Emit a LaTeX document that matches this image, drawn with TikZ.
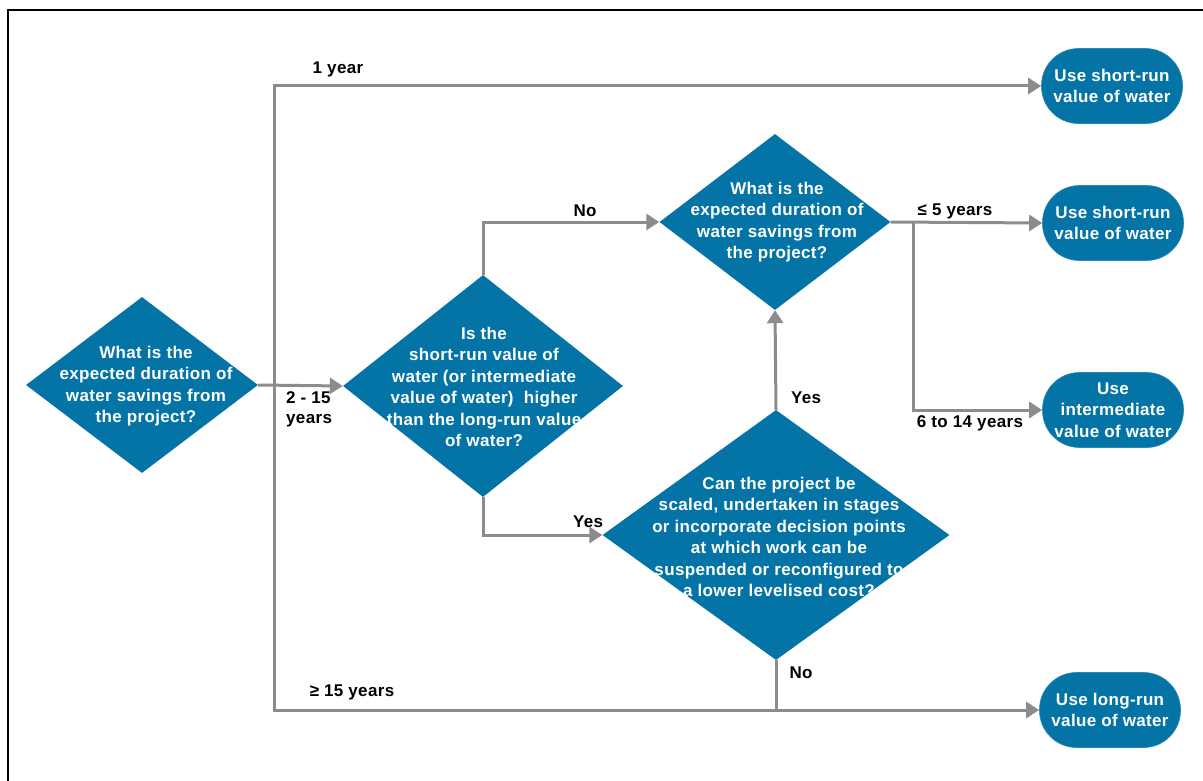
\documentclass[tikz,border=0pt]{standalone}
\usepackage{fontspec}
\setmainfont{Liberation Sans}[LetterSpace=2]
\usetikzlibrary{shapes.geometric,arrows.meta}
\definecolor{nodeblue}{RGB}{4,115,166}
\definecolor{linegray}{RGB}{140,140,140}
\begin{document}
\begin{tikzpicture}[x=1pt,y=-1pt,
  dia/.style={diamond, fill=nodeblue, inner sep=0pt},
  qtext/.style={text=white, font=\bfseries\fontsize{17}{21.5}\selectfont, align=center, inner sep=0pt},
  term/.style={rectangle, rounded corners=37pt, fill=nodeblue, draw=nodeblue!85!white, line width=0.6pt,
    minimum width=141pt, minimum height=75pt, inner sep=0pt, text=white,
    font=\bfseries\fontsize{17}{21.5}\selectfont, align=center},
  conn/.style={draw=linegray, line width=3pt},
  arr/.style={conn, -{Triangle[length=13pt,width=16pt]}},
  lbl/.style={font=\bfseries\fontsize{17}{20}\selectfont, text=black, inner sep=0pt}
]
\useasboundingbox (0,0) rectangle (1203,781);
\draw[line width=2.2pt] (8,782) -- (8,10) -- (1204,10);

% decisions
\node[dia, minimum width=232pt, minimum height=176pt] (d1) at (142,385) {};
\node[qtext] (d1t) at (146,386) {What is the\\expected duration of\\water savings from\\the project?};
\node[dia, minimum width=280pt, minimum height=222pt] (d2) at (483,386) {};
\node[qtext] (d2t) at (484,387) {Is the\\short-run value of\\water (or intermediate\\value of water)\ \ higher\\than the long-run value\\of water?};
\node[dia, minimum width=231pt, minimum height=176pt] (d3) at (775,222) {};
\node[qtext] (d3t) at (777,222) {What is the\\expected duration of\\water savings from\\the project?};
\node[dia, minimum width=347pt, minimum height=250pt] (d4) at (776,535) {};
\node[qtext] (d4t) at (779,537) {Can the project be\\scaled, undertaken in stages\\or incorporate decision points\\at which work can be\\suspended or reconfigured to\\a lower levelised cost?};

% terminals
\node[term] (t1) at (1112,86) {Use short-run\\value of water};
\node[term] (t2) at (1113,223) {Use short-run\\value of water};
\node[term] (t3) at (1113,410) {Use\\intermediate\\value of water};
\node[term] (t4) at (1110,710) {Use long-run\\value of water};

% connectors
\coordinate (j1) at (274,385);
\draw[arr] (d1.east) -- (d2.west);
\draw[arr] (j1) |- (t1.west);
\draw[arr] (j1) |- (t4.west);
\draw[arr] (d2.north) |- (d3.west);
\draw[arr] (d2.south) |- (d4.west);
\draw[arr] (d4.north) -- (d3.south);
\coordinate (j4) at (d4.south |- t4.west);
\draw[conn] (d4.south) -- (j4);
\draw[arr] (d3.east) -- (t2.west);
\coordinate (j3) at (913,223);
\draw[arr] (j3) |- (t3.west);

% labels
\node[lbl] (l1) at (338,69) {1 year};
\node[lbl, anchor=west, align=left] (l2) at (286,409) {2 - 15\\years};
\node[lbl] (l3) at (352,692) {≥ 15 years};
\node[lbl] (l4) at (585,211) {No};
\node[lbl] (l5) at (588,522) {Yes};
\node[lbl] (l6) at (806,398) {Yes};
\node[lbl] (l7) at (801,673) {No};
\node[lbl] (l8) at (955,211) {≤ 5 years};
\node[lbl] (l9) at (970,423) {6 to 14 years};
\end{tikzpicture}
\end{document}
